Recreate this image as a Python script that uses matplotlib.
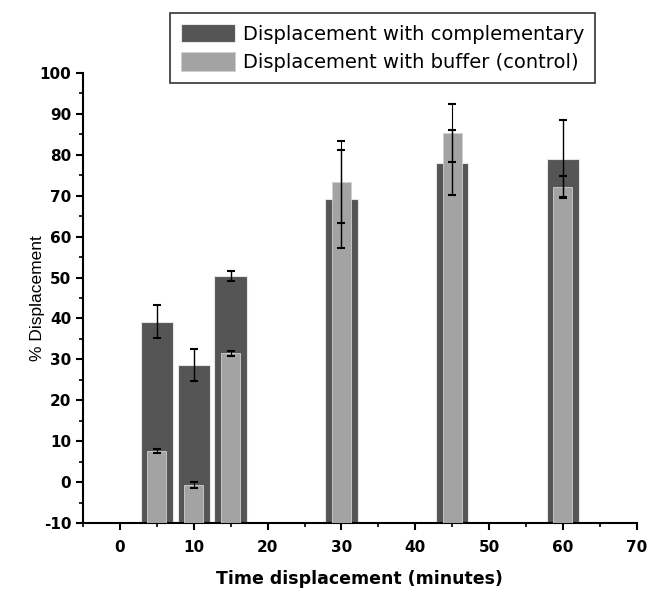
import numpy as np
import matplotlib
matplotlib.use("Agg")
import matplotlib.pyplot as plt
from matplotlib.ticker import MultipleLocator

plt.rcParams["font.family"] = ["DejaVu Sans"]
plt.rcParams["axes.unicode_minus"] = False

# datos
tiempos = [5, 10, 15, 30, 45, 60]
complementaria = [39.2, 28.6, 50.4, 69.2, 78.1, 79.0]
complementaria_err = [4.0, 4.0, 1.3, 12.0, 8.0, 9.6]
control = [7.6, -0.7, 31.5, 73.3, 85.3, 72.2]
control_err = [0.6, 0.7, 0.6, 10.0, 7.0, 2.5]

base = -10
oscuro = "#555555"
claro = "#a3a3a3"

fig = plt.figure(figsize=(6.49, 5.9), dpi=100)
ax = fig.add_axes([0.128, 0.1136, 0.853, 0.7627])

ax.bar(tiempos, np.array(complementaria) - base, bottom=base, width=4.4,
       color=oscuro, edgecolor="#e6e6e6", linewidth=0.8,
       label="Displacement with complementary", zorder=2)
ax.bar(tiempos, np.array(control) - base, bottom=base, width=2.6,
       color=claro, edgecolor="#d0d0d0", linewidth=0.6,
       label="Displacement with buffer (control)", zorder=3)

ax.errorbar(tiempos, complementaria, yerr=complementaria_err, fmt="none",
            ecolor="black", elinewidth=1.0, capsize=3, capthick=1.5, zorder=4)
ax.errorbar(tiempos, control, yerr=control_err, fmt="none",
            ecolor="black", elinewidth=0.8, capsize=3, capthick=1.5, zorder=5)

ax.set_xlim(-5, 70)
ax.set_ylim(-10, 100)
ax.xaxis.set_major_locator(MultipleLocator(10))
ax.xaxis.set_minor_locator(MultipleLocator(5))
ax.yaxis.set_major_locator(MultipleLocator(10))
ax.yaxis.set_minor_locator(MultipleLocator(5))
ax.tick_params(which="major", length=5, width=1.5, labelsize=11)
ax.tick_params(axis="x", which="major", pad=7)
ax.tick_params(which="minor", length=3, width=1.2)
for lbl in ax.get_xticklabels() + ax.get_yticklabels():
    lbl.set_fontweight("bold")

ax.spines["top"].set_visible(False)
ax.spines["right"].set_visible(False)
ax.spines["left"].set_linewidth(1.5)
ax.spines["bottom"].set_linewidth(1.5)

ax.set_xlabel("Time displacement (minutes)", fontsize=12.5, fontweight="bold", labelpad=11)
ax.set_ylabel("% Displacement", fontsize=12.5, labelpad=-4,
              family=["Liberation Sans", "DejaVu Sans"])

leg = fig.legend(loc="upper left", bbox_to_anchor=(0.262, 0.978), fontsize=14,
                 frameon=True, fancybox=False, edgecolor="black",
                 borderaxespad=0, handlelength=2.8, handleheight=1.1,
                 handletextpad=0.4, labelspacing=0.45, borderpad=0.55)
leg.get_frame().set_linewidth(1.2)

plt.savefig("out.png", dpi=100)
